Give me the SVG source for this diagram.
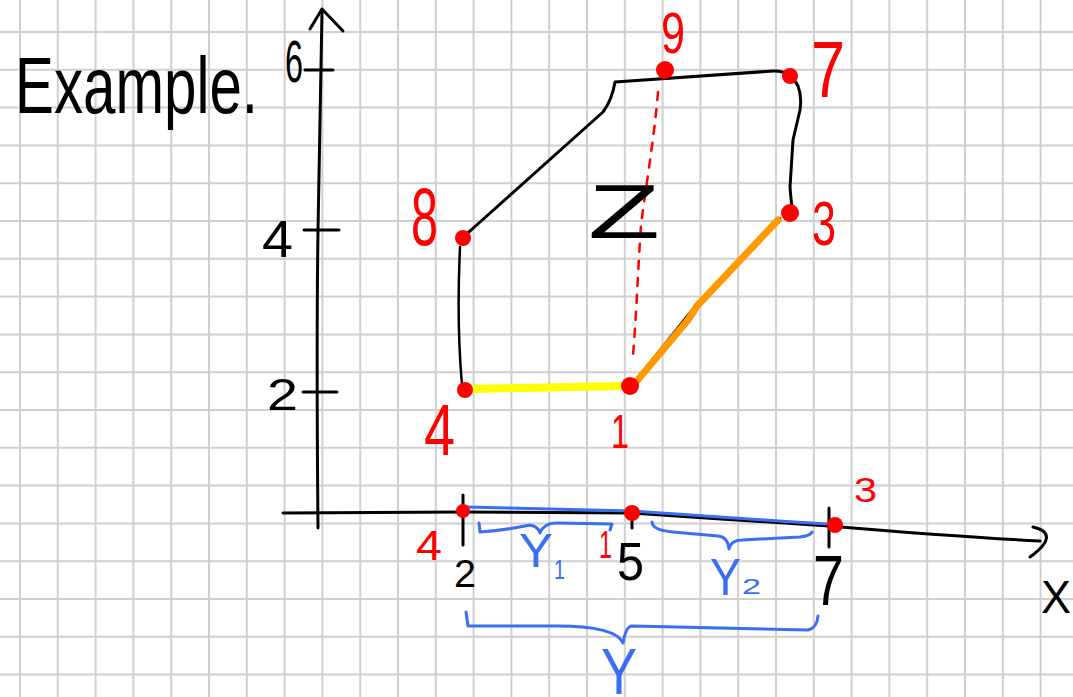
<svg xmlns="http://www.w3.org/2000/svg" width="1073" height="697" viewBox="0 0 1073 697">
<style>
.grid{stroke:#d0d0d0;stroke-width:2;fill:none}
.ink{stroke:#000;stroke-width:3;fill:none;stroke-linecap:round;stroke-linejoin:round}
.thin{stroke:#000;stroke-width:2.5;fill:none;stroke-linecap:round;stroke-linejoin:round}
.blue{stroke:#3a6ef5;stroke-width:3;fill:none;stroke-linecap:round;stroke-linejoin:round}
.dash{stroke:#ff0000;stroke-width:2.5;fill:none;stroke-dasharray:8 9;stroke-linecap:round}
.dot{fill:#ff0000}
.t{font-family:"Liberation Sans",Arial,sans-serif}
.k{fill:#000}
.r{fill:#ff0000}
.b{fill:#3a6ef5}
</style>
<rect width="1073" height="697" fill="#fff"/>
<g id="grid">
<path class="grid" d="M20,0V697M57.8,0V697M95.6,0V697M133.4,0V697M171.2,0V697M209,0V697M246.8,0V697M284.6,0V697M322.4,0V697M360.2,0V697M398,0V697M435.8,0V697M473.6,0V697M511.4,0V697M549.2,0V697M587,0V697M624.8,0V697M662.6,0V697M700.4,0V697M738.2,0V697M776,0V697M813.8,0V697M851.6,0V697M889.4,0V697M927.2,0V697M965,0V697M1002.8,0V697M1040.6,0V697"/>
<path class="grid" d="M0,32H1073M0,69.8H1073M0,107.6H1073M0,145.4H1073M0,183.2H1073M0,221H1073M0,258.8H1073M0,296.6H1073M0,334.4H1073M0,372.2H1073M0,410H1073M0,447.8H1073M0,485.6H1073M0,523.4H1073M0,561.2H1073M0,599H1073M0,636.8H1073M0,674.6H1073"/>
</g>
<text class="t k" x="15" y="113" font-size="80" textLength="243" lengthAdjust="spacingAndGlyphs">Example.</text>
<g id="axes">
<path class="ink" d="M318,528 C317,420 317,300 318,230 C319,160 320,90 322,12"/>
<path class="ink" d="M310,29 L322,9 L343,31"/>
<path class="ink" d="M305,70 L333,70"/>
<path class="ink" d="M304,230 L339,230"/>
<path class="ink" d="M303,392 L337,392"/>
<path class="ink" d="M283,513 L463,512 L632,513 C700,518 760,521 829,526 C900,532 980,538 1040,541"/>
<path class="ink" d="M1033,527 C1050,531 1053,540 1030,557"/>
<path class="ink" d="M463,495 L463,545"/>
<path class="ink" d="M632,507 L632,528"/>
<path class="ink" d="M829,508 L829,547"/>
<text class="t k" x="285" y="82" font-size="59" textLength="18" lengthAdjust="spacingAndGlyphs">6</text>
<text class="t k" x="262" y="257" font-size="52" textLength="31" lengthAdjust="spacingAndGlyphs">4</text>
<text class="t k" x="267" y="410" font-size="45" textLength="31" lengthAdjust="spacingAndGlyphs">2</text>
<text class="t k" x="454" y="587" font-size="38" textLength="22" lengthAdjust="spacingAndGlyphs">2</text>
<text class="t k" x="617" y="580" font-size="53" textLength="27" lengthAdjust="spacingAndGlyphs">5</text>
<text class="t k" x="813" y="605" font-size="70" textLength="31" lengthAdjust="spacingAndGlyphs">7</text>
<text class="t k" x="1041" y="613" font-size="46" textLength="30" lengthAdjust="spacingAndGlyphs">X</text>
</g>
<g id="connectors">
<path class="ink" d="M463,238 Q466,234 470,231 L603,112 Q612,100 615,82 L773,71 Q790,70 798,86 Q802,96 800,110 L793,140 L790,187 Q791,200 792,207"/>
<path class="thin" d="M460,247 C458,290 458,340 462,385"/>
<path class="thin" d="M632,385 L692,310 L780,218"/>
<path d="M470,389 L622,386" stroke="#ffff00" stroke-width="8" stroke-linecap="round" fill="none"/>
<path d="M636,382 L688,320 L697,306 L778,220" stroke="#ff9900" stroke-width="7" stroke-linecap="round" stroke-linejoin="round" fill="none"/>
<path class="dash" d="M658,92 C654,140 646,185 641,225 C638,270 636,320 633,355"/>
<path class="blue" d="M465,507 L632,511 C690,515 760,520 827,524"/>
<path class="blue" d="M479,523 L480,532 Q505,530 525,526 Q536,523 540,533 Q544,523 556,523 L612,524 L610,530"/>
<path class="blue" d="M652,522 Q652,530 673,532 L718,536 Q728,537 729,549 Q731,540 742,540 L800,537 Q810,536 812,532"/>
<path class="blue" d="M466,612 L468,626 L550,626 Q615,625 623,643 Q626,626 632,626 L808,630 Q817,628 818,616"/>
</g>
<g id="Z"><text class="t k" x="588" y="238" font-size="76" textLength="72" lengthAdjust="spacingAndGlyphs">Z</text></g>
<g id="p9"><circle class="dot" cx="665" cy="70" r="9"/><text class="t r" x="661" y="53" font-size="57" textLength="24" lengthAdjust="spacingAndGlyphs">9</text></g>
<g id="p7"><circle class="dot" cx="790" cy="76" r="8"/><text class="t r" x="811" y="97" font-size="80" textLength="34" lengthAdjust="spacingAndGlyphs">7</text></g>
<g id="p3"><circle class="dot" cx="790" cy="213" r="9"/><text class="t r" x="812" y="245" font-size="63" textLength="24" lengthAdjust="spacingAndGlyphs">3</text></g>
<g id="p8"><circle class="dot" cx="463" cy="238" r="8"/><text class="t r" x="411" y="245" font-size="81" textLength="27" lengthAdjust="spacingAndGlyphs">8</text></g>
<g id="p4"><circle class="dot" cx="465" cy="390" r="8"/><text class="t r" x="424" y="455" font-size="72" textLength="31" lengthAdjust="spacingAndGlyphs">4</text></g>
<g id="p1"><circle class="dot" cx="630" cy="386" r="9"/><text class="t r" x="611" y="448" font-size="49" textLength="18" lengthAdjust="spacingAndGlyphs">1</text></g>
<g id="x4"><circle class="dot" cx="463" cy="511" r="7"/><text class="t r" x="416" y="560" font-size="42" textLength="26" lengthAdjust="spacingAndGlyphs">4</text></g>
<g id="x1"><circle class="dot" cx="632" cy="513" r="8"/><text class="t r" x="599" y="558" font-size="39" textLength="13" lengthAdjust="spacingAndGlyphs">1</text></g>
<g id="x3"><circle class="dot" cx="835" cy="525" r="8"/><text class="t r" x="854" y="502" font-size="35" textLength="23" lengthAdjust="spacingAndGlyphs">3</text></g>
<g id="Y1"><text class="t b" x="519" y="567" font-size="49" textLength="34" lengthAdjust="spacingAndGlyphs">Y</text><text class="t b" x="554" y="579" font-size="28" textLength="11" lengthAdjust="spacingAndGlyphs">1</text></g>
<g id="Y2"><text class="t b" x="710" y="595" font-size="52" textLength="31" lengthAdjust="spacingAndGlyphs">Y</text><text class="t b" x="742" y="594" font-size="22" textLength="19" lengthAdjust="spacingAndGlyphs">2</text></g>
<g id="Y"><text class="t b" x="601" y="694" font-size="64" textLength="36" lengthAdjust="spacingAndGlyphs">Y</text></g>
</svg>
